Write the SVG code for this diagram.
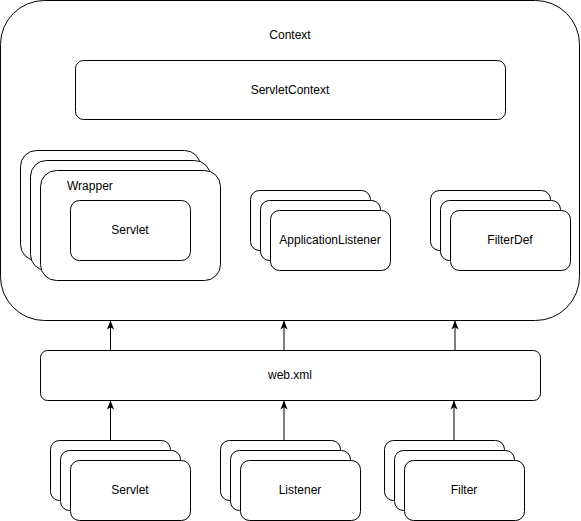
<svg xmlns="http://www.w3.org/2000/svg" width="581" height="521" viewBox="0 0 581 521">
<defs>
<style>
.box{fill:#fff;stroke:#000;stroke-width:1}
.t{font-family:"Liberation Sans",Arial,sans-serif;font-size:12px;fill:#000;text-anchor:middle;dominant-baseline:central}
.edge{stroke:#000;stroke-width:1;fill:none}
</style>
<marker id="arr" viewBox="0 0 10 8" refX="9.5" refY="4" markerWidth="9" markerHeight="7.2" orient="auto" markerUnits="userSpaceOnUse">
<path d="M0,0 L10,4 L0,8 L2.5,4 Z" fill="#000"/>
</marker>
</defs>
<rect width="581" height="521" fill="#fff"/>
<g id="context">
<rect class="box" x="0.5" y="0.5" width="579" height="320" rx="44" ry="44"/>
<text class="t" x="290" y="35">Context</text>
</g>
<g id="servletcontext">
<rect class="box" x="75.5" y="60.5" width="430" height="59" rx="8" ry="8"/>
<text class="t" x="290" y="90">ServletContext</text>
</g>
<g id="wrapper">
<rect class="box" x="20.5" y="150.5" width="180" height="110" rx="16" ry="16"/>
<rect class="box" x="30.5" y="160.5" width="180" height="110" rx="16" ry="16"/>
<rect class="box" x="40.5" y="170.5" width="180" height="110" rx="16" ry="16"/>
<text class="t" x="67" y="186" style="text-anchor:start">Wrapper</text>
</g>
<g id="servlet-inner">
<rect class="box" x="70.5" y="200.5" width="120" height="60" rx="9" ry="9"/>
<text class="t" x="130" y="230">Servlet</text>
</g>
<g id="applicationlistener">
<rect class="box" x="250.5" y="190.5" width="120" height="60" rx="9" ry="9"/>
<rect class="box" x="260.5" y="200.5" width="120" height="60" rx="9" ry="9"/>
<rect class="box" x="270.5" y="210.5" width="120" height="60" rx="9" ry="9"/>
<text class="t" x="330" y="240">ApplicationListener</text>
</g>
<g id="filterdef">
<rect class="box" x="430.5" y="190.5" width="120" height="60" rx="9" ry="9"/>
<rect class="box" x="440.5" y="200.5" width="120" height="60" rx="9" ry="9"/>
<rect class="box" x="450.5" y="210.5" width="120" height="60" rx="9" ry="9"/>
<text class="t" x="510" y="240">FilterDef</text>
</g>
<g id="webxml">
<rect class="box" x="40.5" y="350.5" width="500" height="50" rx="7" ry="7"/>
<text class="t" x="290" y="375">web.xml</text>
</g>
<g id="servlet">
<rect class="box" x="50.5" y="440.5" width="120" height="60" rx="9" ry="9"/>
<rect class="box" x="60.5" y="450.5" width="120" height="60" rx="9" ry="9"/>
<rect class="box" x="70.5" y="460.5" width="120" height="60" rx="9" ry="9"/>
<text class="t" x="130" y="490">Servlet</text>
</g>
<g id="listener">
<rect class="box" x="220.5" y="440.5" width="120" height="60" rx="9" ry="9"/>
<rect class="box" x="230.5" y="450.5" width="120" height="60" rx="9" ry="9"/>
<rect class="box" x="240.5" y="460.5" width="120" height="60" rx="9" ry="9"/>
<text class="t" x="300" y="490">Listener</text>
</g>
<g id="filter">
<rect class="box" x="384.5" y="440.5" width="120" height="60" rx="9" ry="9"/>
<rect class="box" x="394.5" y="450.5" width="120" height="60" rx="9" ry="9"/>
<rect class="box" x="404.5" y="460.5" width="120" height="60" rx="9" ry="9"/>
<text class="t" x="464" y="490">Filter</text>
</g>
<g id="connectors">
<line class="edge" x1="110.5" y1="350" x2="110.5" y2="321" marker-end="url(#arr)"/>
<line class="edge" x1="284" y1="350" x2="284" y2="321" marker-end="url(#arr)"/>
<line class="edge" x1="455" y1="350" x2="455" y2="321" marker-end="url(#arr)"/>
<line class="edge" x1="110.5" y1="440" x2="110.5" y2="401" marker-end="url(#arr)"/>
<line class="edge" x1="284" y1="440" x2="284" y2="401" marker-end="url(#arr)"/>
<line class="edge" x1="454" y1="440" x2="454" y2="401" marker-end="url(#arr)"/>
</g>
</svg>
